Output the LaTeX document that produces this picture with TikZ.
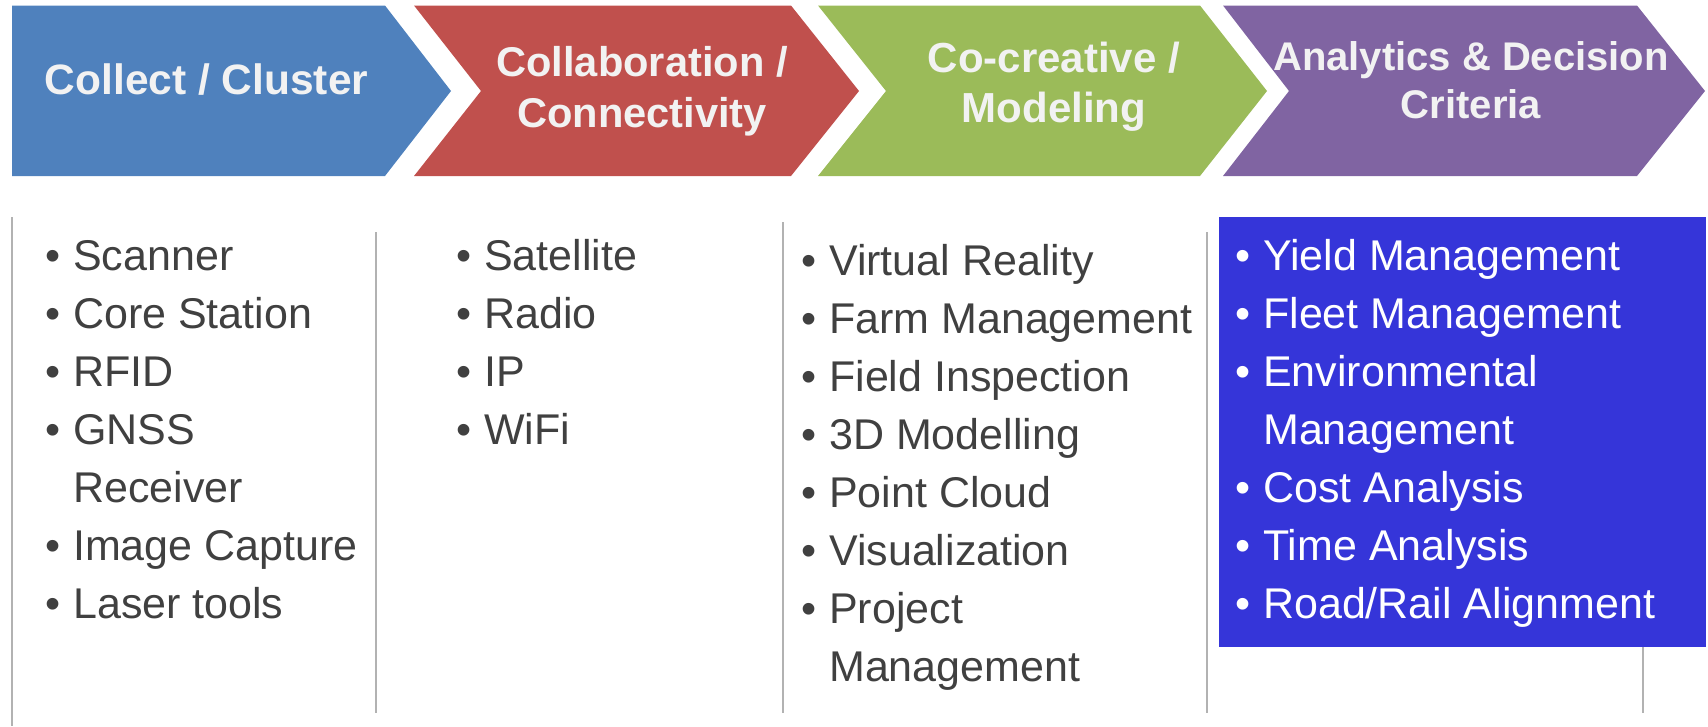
\documentclass[tikz,border=0pt]{standalone}
\usepackage{fontspec}
\setmainfont{Liberation Sans}
\definecolor{cblue}{HTML}{4F81BD}
\definecolor{cred}{HTML}{C0504D}
\definecolor{cgreen}{HTML}{9BBB59}
\definecolor{cpurple}{HTML}{8064A2}
\definecolor{cbox}{HTML}{3535D9}
\definecolor{hdrtxt}{HTML}{F2F2F2}
\definecolor{bodytxt}{HTML}{404040}
\definecolor{sepgray}{HTML}{B2B2B2}
\newcommand\bul{\makebox[28pt][l]{\textbullet}}
\newcommand\bodyfnt{\fontsize{43}{58.1}\selectfont}
\begin{document}
\begin{tikzpicture}[x=1pt,y=-1pt,
  hdr/.style={text=hdrtxt, inner sep=0pt, anchor=base},
  body/.style={inner sep=0pt, anchor=base west, text=bodytxt, font=\bodyfnt},
  sepline/.style={draw=sepgray, line width=2pt}]
\useasboundingbox (0,0) rectangle (1708,726);
% chevrons
\fill[cblue] (12,5.5) -- (385,5.5) -- (451,91) -- (385,176) -- (12,176) -- cycle;
\fill[cred] (414,5.5) -- (791,5.5) -- (859,91) -- (791,176) -- (414,176) -- (481,91) -- cycle;
\fill[cgreen] (818,5.5) -- (1200,5.5) -- (1267,91) -- (1200,176) -- (818,176) -- (886,91) -- cycle;
\fill[cpurple] (1223,5.5) -- (1637,5.5) -- (1705,91) -- (1637,176) -- (1223,176) -- (1289,91) -- cycle;
% header texts
\node[hdr, font=\bfseries\fontsize{42.5}{50}\selectfont] (h1) at (206.5,94) {Collect / Cluster};
\node[hdr, font=\bfseries\fontsize{41.6}{51}\selectfont] (h2) at (642,76)
  {\begin{tabular}[t]{@{}c@{}}Collaboration /\\Connectivity\end{tabular}};
\node[hdr, font=\bfseries\fontsize{42}{50}\selectfont] (h3) at (1054,72)
  {\begin{tabular}[t]{@{}c@{}}Co-creative /\\Modeling\end{tabular}};
\node[hdr, font=\bfseries\fontsize{40}{48}\selectfont] (h4) at (1471,70)
  {\begin{tabular}[t]{@{}c@{}}Analytics \& Decision\\Criteria\end{tabular}};
% highlighted box
\fill[cbox] (1219,217) rectangle (1706,647);
% separators
\coordinate (s1t) at (12,217);   \coordinate (s1b) at (12,726);
\coordinate (s2t) at (376,232);  \coordinate (s2b) at (376,713);
\coordinate (s3t) at (783,222);  \coordinate (s3b) at (783,713);
\coordinate (s4t) at (1207,232); \coordinate (s4b) at (1207,713);
\coordinate (s5t) at (1643,647); \coordinate (s5b) at (1643,713);
\draw[sepline] (s1t) -- (s1b);
\draw[sepline] (s2t) -- (s2b);
\draw[sepline] (s3t) -- (s3b);
\draw[sepline] (s4t) -- (s4b);
\draw[sepline] (s5t) -- (s5b);
% columns
\node[body] (c1) at (45,270) {\begin{tabular}[t]{@{}l@{}l@{}}
\bul & Scanner\\
\bul & Core Station\\
\bul & RFID\\
\bul & GNSS\\
 & Receiver\\
\bul & Image Capture\\
\bul & Laser tools
\end{tabular}};
\node[body] (c2) at (456,270) {\begin{tabular}[t]{@{}l@{}l@{}}
\bul & Satellite\\
\bul & Radio\\
\bul & IP\\
\bul & WiFi
\end{tabular}};
\node[body] (c3) at (801,275) {\begin{tabular}[t]{@{}l@{}l@{}}
\bul & Virtual Reality\\
\bul & Farm Management\\
\bul & Field Inspection\\
\bul & 3D Modelling\\
\bul & Point Cloud\\
\bul & Visualization\\
\bul & Project\\
 & Management
\end{tabular}};
\node[body, text=white] (c4) at (1235,270) {\begin{tabular}[t]{@{}l@{}l@{}}
\bul & Yield Management\\
\bul & Fleet Management\\
\bul & Environmental\\
 & Management\\
\bul & Cost Analysis\\
\bul & Time Analysis\\
\bul & Road/Rail Alignment
\end{tabular}};
\end{tikzpicture}
\end{document}
